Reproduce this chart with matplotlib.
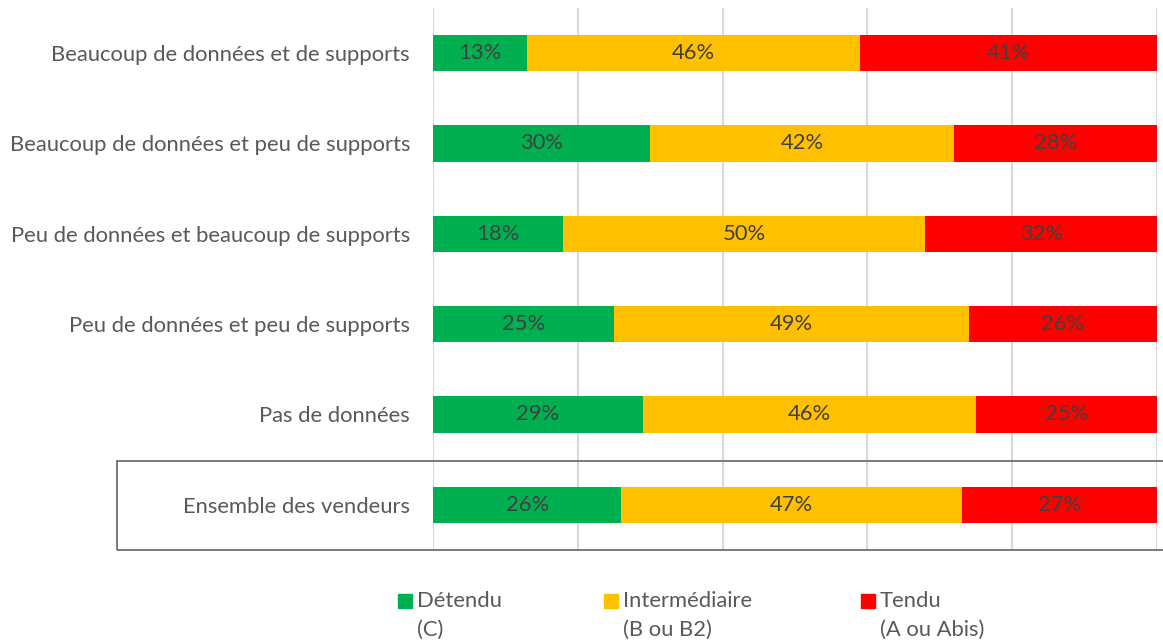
import matplotlib
matplotlib.use("Agg")
import matplotlib.pyplot as plt
from matplotlib.patches import Rectangle
import numpy as np

categories = [
    "Beaucoup de données et de supports",
    "Beaucoup de données et peu de supports",
    "Peu de données et beaucoup de supports",
    "Peu de données et peu de supports",
    "Pas de données",
    "Ensemble des vendeurs",
]
detendu = [13, 30, 18, 25, 29, 26]
intermediaire = [46, 42, 50, 49, 46, 47]
tendu = [41, 28, 32, 26, 25, 27]
series_names = ["Détendu", "Intermédiaire", "Tendu"]
series_codes = ["(C)", "(B ou B2)", "(A ou Abis)"]
colors = ["#00B050", "#FFC000", "#FF0000"]

plt.rcParams['font.family'] = ['Lato', 'DejaVu Sans']
FS = 15.8

W, H = 1163, 643
fig = plt.figure(figsize=(W / 100, H / 100), dpi=100)
ax = fig.add_axes([433 / W, 1 - 550 / H, (1157 - 433) / W, (550 - 8) / H])

n = len(categories)
y = np.arange(n)
data = [detendu, intermediaire, tendu]
left = np.zeros(n)
for vals, c in zip(data, colors):
    vals = np.array(vals, dtype=float)
    bars = ax.barh(y, vals, left=left, height=0.4, color=c, zorder=3)
    for b, v in zip(bars, vals):
        ax.text(b.get_x() + b.get_width() / 2, b.get_y() + b.get_height() / 2,
                f"{int(v)}%", ha="center", va="center", fontsize=FS,
                color="#404040", zorder=4)
    left += vals

ax.set_xlim(0, 100)
ax.set_ylim(n - 0.5, -0.5)
ax.set_xticks([0, 20, 40, 60, 80, 100])
ax.set_xticklabels([])
ax.tick_params(axis="x", length=0)
ax.tick_params(axis="y", length=0, pad=16.5)
ax.set_yticks(y)
ax.set_yticklabels(categories, fontsize=FS, color="#595959")
ax.grid(axis="x", color="#d9d9d9", linewidth=1.5, zorder=0)
for s in ax.spines.values():
    s.set_visible(False)

# box around the last row
fig.add_artist(Rectangle((117 / W, 1 - 550 / H), (1170 - 117) / W, (550 - 461) / H,
                         transform=fig.transFigure, fill=False,
                         edgecolor="#707070", linewidth=1.3, zorder=5))

# legend
leg_x = [398, 604, 861]
for lx, name, code, c in zip(leg_x, series_names, series_codes, colors):
    fig.add_artist(Rectangle((lx / W, 1 - 608 / H), 14 / W, 14 / H,
                             transform=fig.transFigure, color=c))
    fig.text((lx + 19) / W, 1 - 601 / H, name, fontsize=FS, color="#595959",
             va="center", ha="left")
    fig.text((lx + 19) / W, 1 - 630 / H, code, fontsize=FS, color="#595959",
             va="center", ha="left")

fig.savefig("out.png", dpi=100)
